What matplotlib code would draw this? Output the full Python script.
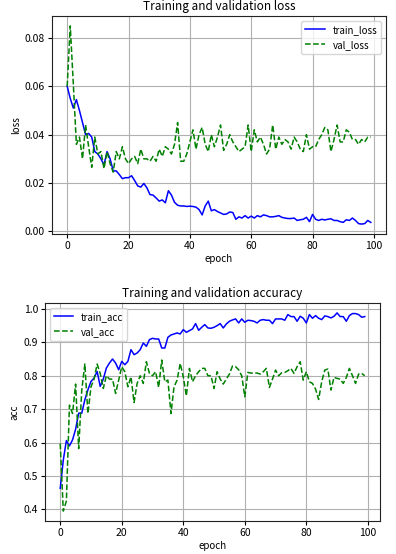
import matplotlib
matplotlib.use("Agg")
import matplotlib.pyplot as plt
import numpy as np

plt.rcParams['font.family'] = ['Noto Sans CJK JP', 'DejaVu Sans']

train_loss = [0.0600, 0.0550, 0.0510, 0.0545, 0.0500, 0.0450, 0.0400, 0.0405, 0.0390, 0.0330,
              0.0320, 0.0300, 0.0275, 0.0330, 0.0300, 0.0250, 0.0250, 0.0235, 0.0218, 0.0222,
              0.0222, 0.0230, 0.0210, 0.0188, 0.0183, 0.0198, 0.0180, 0.0152, 0.0150, 0.0138,
              0.0125, 0.0130, 0.0118, 0.0168, 0.0150, 0.0120, 0.0108, 0.0105, 0.0105, 0.0103,
              0.0104, 0.0103, 0.0100, 0.0090, 0.0068, 0.0105, 0.0125, 0.0085, 0.0090, 0.0082,
              0.0076, 0.0070, 0.0072, 0.0080, 0.0078, 0.0050, 0.0060, 0.0055, 0.0065, 0.0055,
              0.0063, 0.0055, 0.0065, 0.0060, 0.0068, 0.0065, 0.0060, 0.0060, 0.0062, 0.0065,
              0.0058, 0.0055, 0.0053, 0.0053, 0.0055, 0.0045, 0.0048, 0.0050, 0.0058, 0.0040,
              0.0070, 0.0050, 0.0045, 0.0050, 0.0047, 0.0050, 0.0052, 0.0045, 0.0045, 0.0040,
              0.0037, 0.0048, 0.0045, 0.0055, 0.0045, 0.0032, 0.0030, 0.0032, 0.0045, 0.0037]

val_loss = [0.060, 0.085, 0.061, 0.036, 0.039, 0.030, 0.044, 0.035, 0.0265, 0.039,
            0.032, 0.033, 0.026, 0.033, 0.028, 0.0245, 0.033, 0.030, 0.035, 0.030,
            0.028, 0.030, 0.031, 0.028, 0.034, 0.030, 0.030, 0.029, 0.031, 0.029,
            0.034, 0.031, 0.035, 0.034, 0.032, 0.036, 0.045, 0.029, 0.029, 0.032,
            0.037, 0.042, 0.034, 0.040, 0.043, 0.036, 0.033, 0.040, 0.035, 0.039,
            0.044, 0.0335, 0.036, 0.040, 0.037, 0.035, 0.033, 0.034, 0.035, 0.044,
            0.033, 0.042, 0.037, 0.039, 0.036, 0.032, 0.034, 0.044, 0.034, 0.039,
            0.036, 0.038, 0.037, 0.034, 0.039, 0.037, 0.034, 0.033, 0.040, 0.034,
            0.035, 0.035, 0.038, 0.040, 0.043, 0.042, 0.033, 0.038, 0.044, 0.037,
            0.037, 0.042, 0.041, 0.038, 0.038, 0.036, 0.038, 0.037, 0.039, 0.039]

train_acc = [0.463, 0.548, 0.606, 0.590, 0.608, 0.640, 0.688, 0.688, 0.728, 0.758,
             0.783, 0.793, 0.813, 0.768, 0.790, 0.823, 0.838, 0.850, 0.838, 0.818,
             0.843, 0.833, 0.843, 0.878, 0.863, 0.868, 0.878, 0.898, 0.888, 0.908,
             0.912, 0.910, 0.910, 0.883, 0.883, 0.915, 0.922, 0.925, 0.928, 0.925,
             0.938, 0.930, 0.935, 0.940, 0.956, 0.936, 0.945, 0.953, 0.943, 0.942,
             0.945, 0.950, 0.956, 0.943, 0.955, 0.963, 0.967, 0.970, 0.958, 0.970,
             0.960, 0.966, 0.965, 0.963, 0.958, 0.966, 0.968, 0.966, 0.966, 0.956,
             0.970, 0.970, 0.970, 0.966, 0.983, 0.977, 0.977, 0.963, 0.978, 0.972,
             0.958, 0.983, 0.972, 0.980, 0.972, 0.968, 0.979, 0.977, 0.973, 0.978,
             0.988, 0.977, 0.977, 0.963, 0.980, 0.986, 0.986, 0.983, 0.975, 0.977]

val_acc = [0.597, 0.395, 0.425, 0.712, 0.687, 0.775, 0.582, 0.757, 0.835, 0.687,
           0.767, 0.790, 0.835, 0.807, 0.762, 0.800, 0.790, 0.790, 0.747, 0.787,
           0.827, 0.812, 0.767, 0.797, 0.720, 0.777, 0.800, 0.777, 0.842, 0.807,
           0.800, 0.812, 0.765, 0.847, 0.782, 0.787, 0.687, 0.767, 0.787, 0.837,
           0.797, 0.740, 0.822, 0.782, 0.800, 0.812, 0.822, 0.822, 0.800, 0.800,
           0.762, 0.812, 0.790, 0.775, 0.790, 0.805, 0.829, 0.827, 0.818, 0.800,
           0.737, 0.810, 0.808, 0.808, 0.808, 0.805, 0.812, 0.822, 0.765, 0.790,
           0.817, 0.800, 0.809, 0.810, 0.815, 0.822, 0.807, 0.827, 0.842, 0.787,
           0.812, 0.782, 0.777, 0.760, 0.729, 0.782, 0.817, 0.820, 0.757, 0.795,
           0.792, 0.790, 0.777, 0.795, 0.822, 0.800, 0.777, 0.805, 0.807, 0.800]

epochs = np.arange(len(train_loss))
xticks = [0, 20, 40, 60, 80, 100]
loss_yticks = [0.00, 0.02, 0.04, 0.06, 0.08]
acc_yticks = [0.4, 0.5, 0.6, 0.7, 0.8, 0.9, 1.0]

fig = plt.figure(figsize=(3.96, 5.54), dpi=100)
ax1 = fig.add_axes([52/396, 1-234/554, 334/396, 218/554])
ax2 = fig.add_axes([45/396, 1-521/554, 335/396, 218/554])

def style(ax, title, ylabel):
    ax.set_title(title, fontsize=8.5, pad=4)
    ax.set_xlabel('epoch', fontsize=7, labelpad=2)
    ax.set_ylabel(ylabel, fontsize=7, labelpad=3)
    ax.grid(True, color='#b0b0b0', linewidth=0.8)
    ax.tick_params(labelsize=7.5, length=3, width=0.8, pad=2)
    ax.set_xticks(xticks)
    for s in ax.spines.values():
        s.set_color('#222222')

ax1.plot(epochs, train_loss, color='blue', lw=1.1, label='train_loss')
ax1.plot(epochs, val_loss, color='green', lw=1.1, ls='--', label='val_loss')
style(ax1, 'Training and validation loss', 'loss')
ax1.set_yticks(loss_yticks)
ax1.legend(loc='upper right', fontsize=7)

ax2.plot(epochs, train_acc, color='blue', lw=1.1, label='train_acc')
ax2.plot(epochs, val_acc, color='green', lw=1.1, ls='--', label='val_acc')
style(ax2, 'Training and validation accuracy', 'acc')
ax2.set_yticks(acc_yticks)
ax2.legend(loc='upper left', fontsize=7)

fig.savefig('out.png', dpi=100)
